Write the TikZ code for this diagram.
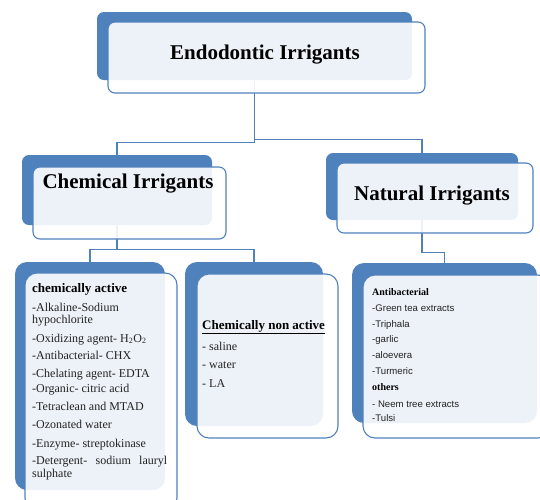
\documentclass[tikz,border=0pt]{standalone}
\usepackage{fontspec}
\setmainfont{Liberation Serif}
\newfontfamily\natsans{Liberation Sans}
\definecolor{sablue}{HTML}{4F81BD}
\definecolor{inktext}{HTML}{222222}
\begin{document}
\begin{tikzpicture}[x=1pt,y=-1pt,
  backbox/.style={fill=sablue, inner sep=0pt, rounded corners=#1},
  backbox/.default=7pt,
  frontbox/.style={draw=sablue, line width=1.1pt, fill=white, fill opacity=0.9, inner sep=0pt, rounded corners=#1},
  frontbox/.default=7pt,
  link/.style={draw=sablue, line width=1.2pt},
  titletext/.style={font=\fontsize{21}{24}\selectfont\bfseries, text=black, inner sep=0pt},
  itemtext/.style={anchor=base west, inner sep=0pt, font=\fontsize{12}{13}\selectfont, text=inktext},
  headtext/.style={anchor=base west, inner sep=0pt, font=\fontsize{13}{14}\selectfont\bfseries, text=black},
  natitem/.style={anchor=base west, inner sep=0pt, font=\natsans\fontsize{9.6}{11}\selectfont, text=inktext},
  nathead/.style={anchor=base west, inner sep=0pt, font=\fontsize{10}{11}\selectfont\bfseries, text=black}
]
\clip (0,0) rectangle (540,499);

% back boxes
\node[backbox, minimum width=315pt, minimum height=68pt] (topB) at (254.5,46) {};
\node[backbox, minimum width=190pt, minimum height=70pt] (chemB) at (117,190) {};
\node[backbox, minimum width=192pt, minimum height=67pt] (natB) at (422,186.5) {};
\node[backbox=12pt, minimum width=150pt, minimum height=228pt] (actB) at (90,376) {};
\node[backbox=12pt, minimum width=138pt, minimum height=164pt] (nonB) at (254,344) {};
\node[backbox=12pt, minimum width=185pt, minimum height=160pt] (natlB) at (444.5,343) {};

% connectors
\draw[link] (topB.south) -- ++(0,62) -| (chemB.north);
\draw[link] (topB.south) -- ++(0,59.5) -| (natB.north);
\draw[link] (chemB.south) -- ++(0,24) -| (actB.north);
\draw[link] (chemB.south) -- ++(0,24) -| (nonB.north);
\draw[link] (natB.south) -- ++(0,32) -| (natlB.north);

% front boxes
\node[frontbox, minimum width=317pt, minimum height=71pt] (topF) at (266.5,57.5) {};
\node[frontbox, minimum width=193pt, minimum height=72pt] (chemF) at (129.5,203) {};
\node[frontbox, minimum width=196pt, minimum height=70pt] (natF) at (435,198) {};
\node[frontbox=12pt, minimum width=152pt, minimum height=237pt] (actF) at (101,391.5) {};
\node[frontbox=12pt, minimum width=141pt, minimum height=164pt] (nonF) at (267.5,356) {};
\node[frontbox=12pt, minimum width=187pt, minimum height=163pt] (natlF) at (456.5,356.5) {};

% titles
\node[titletext] (topT) at (265,55) {Endodontic Irrigants};
\node[titletext] (chemT) at (128,184) {Chemical Irrigants};
\node[titletext] (natT) at (432,196) {Natural Irrigants};

% chemically active list
\node[headtext] (caH) at (32,292) {chemically active};
\foreach \yy/\tt [count=\i] in {
  311/{-Alkaline-Sodium},
  323/{hypochlorite},
  342/{-Oxidizing agent- H\textsubscript{2}O\textsubscript{2}},
  359/{-Antibacterial- CHX},
  377/{-Chelating agent- EDTA},
  392/{-Organic- citric acid},
  410/{-Tetraclean and MTAD},
  428/{-Ozonated water},
  447/{-Enzyme- streptokinase},
  464/{\hbox to 135pt{-Detergent-\hfill sodium\hfill lauryl}},
  477/{sulphate}}
  \node[itemtext] (ca\i) at (32,\yy) {\tt};

% chemically non active list
\node[headtext] (naH) at (202,329) {\underline{Chemically non active}};
\node[itemtext] (na1) at (202,350) {- saline};
\node[itemtext] (na2) at (202,368) {- water};
\node[itemtext] (na3) at (202,387) {- LA};

% natural list
\node[nathead] (nH1) at (372,295) {Antibacterial};
\node[natitem] (n1) at (372,311) {-Green tea extracts};
\node[natitem] (n2) at (372,327) {-Triphala};
\node[natitem] (n3) at (372,342) {-garlic};
\node[natitem] (n4) at (372,358) {-aloevera};
\node[natitem] (n5) at (372,374) {-Turmeric};
\node[nathead] (nH2) at (372,390) {others};
\node[natitem] (n6) at (372,407) {- Neem tree extracts};
\node[natitem] (n7) at (372,421) {-Tulsi};
\end{tikzpicture}
\end{document}
